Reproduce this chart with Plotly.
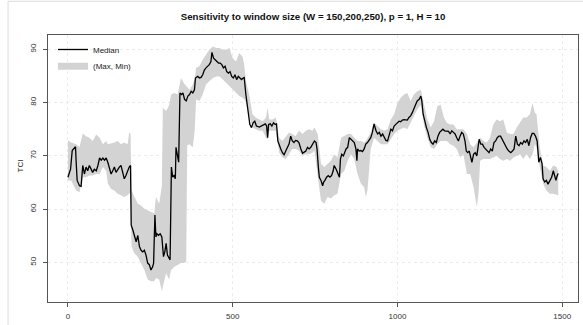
import plotly.graph_objects as go

# ---- data ----
med_x = [0, 8, 13, 18, 23, 25, 28, 35, 40, 45, 50, 55, 60, 65, 70, 75, 80, 86, 91, 96,
         101, 106, 111, 116, 121, 126, 131, 136, 141, 146, 151, 156, 161, 166, 171, 176, 181, 186, 190, 192,
         197, 202, 207, 212, 217, 222, 227, 232, 237, 242, 247, 252, 257, 260, 264, 267, 270, 275, 280, 285,
         290, 294, 298, 302, 307, 310, 314, 318, 322, 326, 328, 333, 336, 340, 345, 349, 354, 359, 364, 369,
         374, 379, 384, 387, 394, 399, 404, 409, 414, 419, 424, 429, 434, 437, 442, 447, 452, 457, 462, 467,
         472, 477, 482, 487, 492, 497, 502, 507, 512, 517, 522, 527, 532, 535, 540, 545, 548, 552, 557, 562,
         567, 572, 581, 591, 599, 603, 606, 609, 614, 619, 624, 629, 633, 637, 641, 646, 651, 656, 661, 666,
         671, 676, 681, 686, 691, 696, 701, 707, 712, 717, 722, 727, 732, 737, 742, 748, 753, 756, 760, 763,
         768, 773, 776, 780, 785, 790, 795, 800, 805, 808, 814, 819, 824, 827, 831, 836, 839, 844, 849, 854,
         859, 864, 869, 874, 877, 879, 884, 889, 894, 899, 904, 909, 914, 919, 924, 929, 935, 940, 945, 950,
         955, 960, 965, 970, 975, 980, 985, 990, 995, 1000, 1005, 1010, 1015, 1020, 1025, 1030, 1035, 1040, 1045, 1050,
         1055, 1060, 1066, 1071, 1074, 1078, 1083, 1088, 1093, 1098, 1103, 1108, 1113, 1118, 1123, 1128, 1133, 1138, 1143, 1150,
         1155, 1160, 1165, 1170, 1175, 1180, 1185, 1190, 1195, 1200, 1205, 1209, 1213, 1218, 1223, 1226, 1231, 1236, 1241, 1244,
         1248, 1253, 1258, 1263, 1268, 1273, 1278, 1283, 1288, 1293, 1298, 1303, 1308, 1313, 1318, 1323, 1328, 1333, 1338, 1344,
         1349, 1354, 1359, 1364, 1369, 1374, 1379, 1384, 1389, 1394, 1399, 1404, 1409, 1414, 1419, 1424, 1429, 1434, 1439, 1442,
         1447, 1452, 1457, 1463, 1468, 1473, 1478, 1481, 1485, 1488]
med_y = [66.0, 67.5, 71.0, 71.3, 71.7, 68.8, 65.4, 64.4, 64.3, 68.2, 66.6, 67.9, 67.2, 68.2, 67.5, 66.9, 67.5, 67.2, 68.2, 69.6,
         69.2, 69.6, 69.2, 69.6, 68.8, 67.5, 66.6, 67.2, 67.9, 66.9, 67.5, 67.9, 68.2, 66.9, 65.7, 66.3, 67.2, 67.9, 68.2, 57.0,
         56.1, 54.8, 53.9, 55.1, 53.0, 52.3, 52.0, 52.3, 51.4, 49.9, 49.6, 48.6, 49.2, 49.9, 58.9, 54.8, 55.4, 55.1, 55.4, 54.8,
         51.1, 52.0, 53.6, 51.4, 50.6, 50.5, 67.9, 66.0, 66.3, 65.7, 71.6, 69.7, 68.8, 81.8, 81.5, 81.8, 80.6, 80.3, 81.2, 81.5,
         82.1, 81.8, 82.4, 84.6, 84.9, 84.6, 84.7, 85.2, 86.1, 86.5, 86.8, 87.1, 87.7, 89.4, 88.3, 88.0, 87.7, 87.4, 87.4, 87.1,
         86.5, 86.8, 85.8, 85.5, 85.8, 84.9, 84.6, 85.2, 84.3, 84.9, 84.6, 84.3, 84.6, 84.7, 81.5, 79.3, 77.2, 75.9, 75.3, 76.2,
         76.5, 75.6, 75.4, 75.8, 76.0, 75.6, 73.4, 75.9, 76.0, 75.6, 76.2, 75.9, 76.0, 72.8, 71.9, 71.3, 70.6, 70.2, 70.9, 71.6,
         72.2, 73.7, 72.8, 72.5, 72.9, 72.8, 72.5, 71.3, 70.5, 70.7, 70.9, 71.6, 71.3, 71.6, 72.2, 72.8, 72.5, 71.3, 67.9, 66.0,
         65.4, 64.4, 65.1, 65.4, 66.0, 66.3, 66.0, 66.3, 67.2, 68.2, 67.5, 66.9, 66.0, 69.4, 70.3, 70.0, 70.6, 71.3, 71.6, 73.4,
         73.1, 72.8, 72.5, 71.3, 69.1, 71.3, 70.9, 71.0, 70.8, 71.3, 72.2, 72.5, 73.1, 73.4, 74.4, 76.0, 74.7, 74.1, 74.4, 73.7,
         74.1, 73.4, 72.9, 72.8, 74.1, 75.0, 74.7, 75.6, 75.9, 76.2, 76.5, 76.4, 76.7, 76.8, 76.7, 76.7, 77.2, 77.5, 78.1, 78.7,
         79.6, 80.3, 80.6, 81.2, 80.3, 77.8, 76.2, 75.3, 74.4, 73.1, 72.5, 72.2, 72.8, 72.5, 73.7, 74.4, 74.7, 75.0, 74.7, 74.7,
         74.6, 74.1, 74.7, 74.4, 74.1, 73.4, 72.8, 73.7, 74.4, 74.1, 72.8, 70.9, 70.6, 70.9, 69.7, 68.8, 70.3, 70.6, 70.0, 71.6,
         73.1, 72.2, 72.2, 71.6, 71.3, 70.9, 70.6, 71.3, 70.9, 72.5, 72.8, 73.4, 73.7, 73.7, 73.1, 72.2, 71.6, 71.3, 70.9, 70.6,
         70.9, 71.3, 73.7, 72.2, 71.9, 72.5, 72.2, 72.8, 72.5, 73.1, 71.9, 73.4, 74.2, 74.2, 73.7, 72.8, 68.8, 69.7, 68.5, 65.7,
         65.1, 65.4, 64.7, 65.4, 66.0, 67.2, 66.3, 65.4, 66.3, 66.7]

band_x = [0, 10, 25, 35, 45, 55, 65, 75, 86, 96, 106, 116, 121, 131, 141, 151, 161, 171, 181, 186,
          190, 193, 202, 212, 222, 232, 242, 252, 262, 267, 277, 285, 288, 298, 307, 313, 323, 333, 343, 353,
          359, 362, 369, 379, 385, 389, 399, 409, 419, 429, 440, 450, 460, 470, 480, 490, 500, 510, 520, 530,
          535, 540, 550, 560, 570, 581, 591, 601, 606, 611, 621, 631, 641, 651, 661, 671, 681, 691, 701, 712,
          722, 732, 742, 748, 758, 768, 778, 788, 798, 808, 818, 829, 839, 849, 859, 869, 879, 889, 899, 904,
          909, 919, 929, 939, 950, 960, 970, 980, 990, 1000, 1010, 1020, 1030, 1040, 1050, 1060, 1071, 1081, 1091, 1101,
          1111, 1121, 1131, 1141, 1150, 1160, 1170, 1180, 1190, 1200, 1211, 1221, 1231, 1241, 1246, 1251, 1261, 1271, 1281, 1291,
          1301, 1311, 1321, 1332, 1342, 1352, 1362, 1372, 1382, 1392, 1402, 1410, 1417, 1422, 1432, 1442, 1452, 1463, 1473, 1483,
          1488]
band_max = [72.9, 72.5, 72.2, 71.6, 74.2, 73.7, 73.4, 72.8, 74.0, 73.4, 72.2, 72.8, 72.2, 72.3, 72.5, 72.8, 72.2, 72.5, 72.2, 74.4,
            74.2, 63.5, 62.3, 61.0, 60.7, 60.1, 59.8, 59.5, 59.2, 62.3, 61.0, 64.4, 79.0, 78.4, 79.5, 81.5, 81.8, 81.5, 84.6, 83.5,
            83.0, 82.8, 82.4, 83.4, 84.5, 86.5, 86.8, 88.0, 88.9, 89.9, 90.5, 90.2, 90.2, 89.9, 89.9, 90.2, 88.3, 87.7, 89.3, 88.6,
            87.1, 84.0, 81.5, 77.8, 77.2, 76.8, 76.5, 77.2, 79.0, 76.8, 76.8, 77.2, 73.4, 72.8, 73.7, 74.4, 74.1, 73.7, 74.7, 74.1,
            74.7, 75.0, 74.7, 75.3, 74.1, 68.5, 67.9, 68.5, 69.1, 70.3, 69.7, 73.4, 73.7, 74.1, 74.1, 73.4, 72.8, 72.8, 72.5, 72.8,
            73.4, 74.4, 76.2, 75.6, 75.0, 74.7, 75.0, 76.8, 77.8, 79.9, 80.9, 81.5, 81.8, 80.3, 81.5, 82.1, 82.4, 79.6, 76.8, 75.3,
            76.5, 79.3, 79.6, 77.2, 76.2, 75.9, 75.9, 75.0, 75.0, 75.0, 74.1, 72.2, 71.6, 72.5, 72.8, 73.4, 72.8, 72.5, 73.4, 75.9,
            76.8, 76.5, 76.8, 74.4, 74.1, 74.1, 75.3, 76.2, 77.2, 77.2, 77.8, 79.9, 78.1, 77.8, 71.6, 68.2, 67.9, 67.2, 68.2, 67.9,
            67.2]
band_min = [65.4, 65.4, 63.5, 63.2, 66.0, 66.0, 66.3, 66.3, 66.6, 66.6, 67.9, 67.2, 64.8, 63.8, 63.5, 62.9, 62.6, 62.3, 62.6, 62.9,
            63.2, 53.0, 51.7, 51.1, 49.9, 48.6, 46.8, 46.5, 46.5, 47.1, 46.8, 44.6, 45.5, 48.0, 46.8, 48.6, 49.2, 49.6, 49.9, 49.9,
            50.2, 72.0, 72.2, 71.6, 75.0, 80.6, 80.3, 81.5, 83.4, 84.0, 84.6, 84.9, 84.9, 84.3, 83.7, 83.0, 82.4, 81.8, 81.2, 80.9,
            80.6, 80.0, 77.5, 75.3, 75.0, 74.7, 74.7, 73.4, 73.1, 74.7, 74.7, 74.7, 70.6, 69.7, 69.4, 70.3, 71.3, 71.3, 71.0, 70.0,
            70.3, 70.3, 70.6, 71.0, 66.6, 61.6, 61.0, 62.3, 62.0, 62.6, 62.9, 66.6, 67.2, 69.1, 70.3, 69.4, 66.6, 64.8, 64.1, 62.3,
            63.5, 71.3, 73.4, 72.8, 72.2, 72.2, 72.2, 73.1, 74.1, 74.7, 75.0, 75.3, 75.0, 76.2, 77.2, 78.7, 79.6, 75.6, 73.4, 71.6,
            71.3, 72.2, 72.8, 72.8, 72.8, 72.2, 71.9, 71.3, 69.7, 70.3, 66.6, 66.6, 64.1, 60.4, 62.9, 69.1, 69.4, 69.4, 69.4, 69.7,
            70.0, 69.4, 69.1, 69.4, 69.1, 69.7, 70.0, 70.3, 69.4, 70.3, 69.4, 70.3, 72.2, 71.6, 67.9, 64.8, 63.5, 62.9, 62.9, 62.6,
            62.6]

x_ticks = [0, 500, 1000, 1500]
y_ticks = [50, 60, 70, 80, 90]
title_text = "Sensitivity to window size (W = 150,200,250), p = 1, H = 10"
y_label = "TCI"

FONT = "Liberation Sans, Arial, Helvetica, sans-serif"
BAND = "#d3d3d3"

fig = go.Figure()
fig.add_trace(go.Scatter(x=band_x, y=band_min, mode="lines", line=dict(width=0, color=BAND),
                         showlegend=False, hoverinfo="skip"))
fig.add_trace(go.Scatter(x=band_x, y=band_max, mode="lines", line=dict(width=0, color=BAND),
                         fill="tonexty", fillcolor=BAND, showlegend=False, hoverinfo="skip"))
fig.add_trace(go.Scatter(x=med_x, y=med_y, mode="lines", name="Median",
                         line=dict(color="black", width=1.3), legend="legend"))
fig.add_trace(go.Scatter(x=[None], y=[None], mode="lines", name="(Max, Min)",
                         line=dict(color=BAND, width=7), legend="legend2"))

axis_common = dict(showline=True, mirror=True, linecolor="#555555", linewidth=1,
                   ticks="outside", ticklen=4, tickcolor="#555555", tickwidth=1,
                   showgrid=True, gridcolor="#ececec", griddash="dot", gridwidth=1,
                   zeroline=False, tickfont=dict(family=FONT, size=8, color="#333333"))

fig.update_layout(
    width=583, height=325,
    margin=dict(l=48, r=4, t=35, b=21),
    paper_bgcolor="white", plot_bgcolor="white",
    font=dict(family=FONT, size=8, color="#222222"),
    title=dict(text="<b>" + title_text + "</b>", x=(313 / 583), xanchor="center",
               y=1 - 17 / 325, yanchor="middle", font=dict(family=FONT, size=9.7, color="#111111")),
    xaxis=dict(range=[-60.5, 1548], tickvals=x_ticks, ticklabelstandoff=2, **axis_common),
    yaxis=dict(range=[42.6, 92.66], tickvals=y_ticks, tickangle=-90, ticklabelstandoff=4, **axis_common),
    legend=dict(x=0.0094, xanchor="left", y=1.0, yanchor="top", bgcolor="rgba(0,0,0,0)",
                font=dict(family=FONT, size=8, color="#222222")),
    legend2=dict(x=0.0094, xanchor="left", y=0.9368, yanchor="top", bgcolor="rgba(0,0,0,0)",
                 font=dict(family=FONT, size=8, color="#222222")),
    annotations=[dict(text=y_label, xref="paper", yref="paper", x=(14 - 48) / 531, y=0.51,
                      textangle=-90, showarrow=False, font=dict(family=FONT, size=8, color="#222222"))],
    shapes=[dict(type="rect", xref="paper", yref="paper", x0=(8 - 48) / 531, x1=1.1,
                 y0=-0.2, y1=(304 - 1) / 269, line=dict(color="#dddddd", width=1), layer="below")],
)

fig.write_html("out.html")
